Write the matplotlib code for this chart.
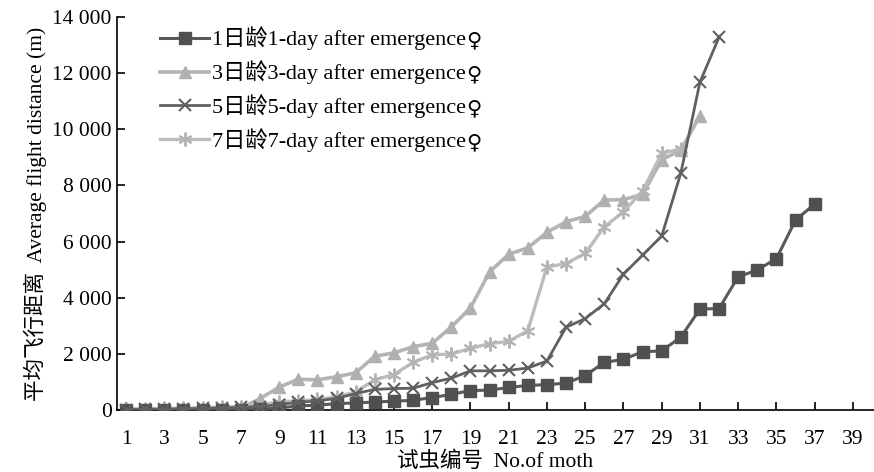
import matplotlib
matplotlib.use("Agg")
import matplotlib.pyplot as plt
from matplotlib.ticker import FuncFormatter

plt.rcParams['font.family'] = ['Liberation Serif', 'Noto Sans CJK SC', 'DejaVu Sans']
plt.rcParams['font.size'] = 15

# moth number, one list per age group
moth_1d = list(range(1, 38))
moth_3d = list(range(1, 32))
moth_5d = list(range(1, 33))
moth_7d = list(range(1, 31))

dist_1d = [0, 0, 0, 0, 0, 10, 20, 30, 80, 150, 180, 230, 260, 290, 320, 350,
           450, 560, 700, 710, 810, 880, 910, 960, 1230, 1700, 1810, 2080,
           2110, 2600, 3600, 3620, 4750, 4990, 5400, 6770, 7340]
dist_3d = [30, 30, 40, 40, 50, 60, 70, 410, 820, 1100, 1080, 1190, 1330, 1920,
           2040, 2260, 2380, 2960, 3640, 4920, 5550, 5780, 6330, 6710, 6900,
           7480, 7500, 7680, 8920, 9250, 10480]
dist_5d = [20, 30, 40, 50, 60, 80, 100, 130, 200, 280, 330, 420, 590, 740, 770,
           780, 980, 1140, 1400, 1400, 1420, 1500, 1750, 2950, 3260, 3790,
           4840, 5520, 6200, 8440, 11680, 13280]
dist_7d = [40, 50, 60, 70, 90, 110, 130, 180, 300, 330, 380, 475, 650, 1080,
           1270, 1700, 1970, 2000, 2200, 2370, 2450, 2830, 5100, 5220, 5580,
           6530, 7060, 7800, 9150, 9300]

labels = ['1日龄1-day after emergence', '3日龄3-day after emergence',
          '5日龄5-day after emergence', '7日龄7-day after emergence']
female = '♀'

fig = plt.figure(figsize=(8.74, 4.72), dpi=100)
ax = fig.add_axes([0.134, 0.131, 0.866, 0.833])

ax.plot(moth_1d, dist_1d, color='#5a5a5a', lw=2.2, marker='s', ms=9,
        mfc='#505050', mec='#505050', label=labels[0], zorder=3)
ax.plot(moth_3d, dist_3d, color='#b4b4b4', lw=2.6, marker='^', ms=9,
        mfc='#b0b0b0', mec='#b0b0b0', label=labels[1], zorder=2)
ax.plot(moth_5d, dist_5d, color='#606060', lw=2.0, marker='x', ms=8, mew=1.5,
        mec='#606060', label=labels[2], zorder=4)
ax.plot(moth_7d, dist_7d, color='#bcbcbc', lw=2.4, marker=(6, 2, 0), ms=10,
        mew=1.4, mec='#b4b4b4', label=labels[3], zorder=2)

ax.set_xlim(0.53, 40.1)
ax.set_ylim(0, 14000)
ax.set_xticks(range(1, 40, 2))
ax.set_yticks(range(0, 14001, 2000))
ax.yaxis.set_major_formatter(FuncFormatter(lambda v, p: '{:,}'.format(int(v)).replace(',', ' ')))
ax.tick_params(direction='in', length=6, width=1.2, colors='black', labelsize=15.5)
ax.tick_params(axis='x', pad=14)
ax.tick_params(axis='y', pad=4)

for s in ('top', 'right'):
    ax.spines[s].set_visible(False)
for s in ('left', 'bottom'):
    ax.spines[s].set_linewidth(1.2)

ax.set_xlabel('试虫编号  No.of moth', fontsize=15.5, labelpad=2)
ax.set_ylabel('平均飞行距离  Average flight distance (m)', fontsize=15.5, labelpad=4)

leg = ax.legend(loc='upper left', bbox_to_anchor=(0.045, 0.998), frameon=False,
                fontsize=16, handlelength=2.2, handletextpad=0.15, labelspacing=0.45,
                borderaxespad=0)

# the female sign is drawn bigger, in DejaVu Sans, right after each label
fig.canvas.draw()
W, H = fig.canvas.get_width_height()
for t in leg.get_texts():
    bb = t.get_window_extent()
    fig.text(bb.x1 / W, (bb.y0 + bb.y1) / 2 / H - 0.004, female, family='DejaVu Sans',
             fontsize=15, ha='left', va='center')

fig.savefig('out.png', dpi=100)
